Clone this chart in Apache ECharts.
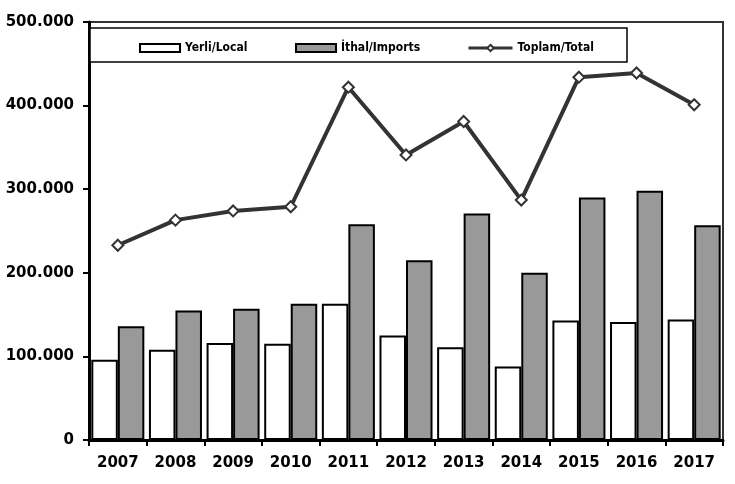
<!DOCTYPE html>
<html>
<head>
<meta charset="utf-8">
<script src="https://cdn.jsdelivr.net/npm/echarts@6/dist/echarts.min.js"></script>
<style>
  html, body { margin: 0; padding: 0; background: #fff; }
  #chart { width: 735px; height: 484px; }
</style>
</head>
<body>
<div id="chart"></div>
<script>
// years on the x axis
var years = ['2007', '2008', '2009', '2010', '2011', '2012', '2013', '2014', '2015', '2016', '2017'];
// yerli / local
var local = [96000, 108000, 116000, 115000, 163000, 125000, 111000, 88000, 143000, 141000, 144000];
// ithal / imports
var imports = [136000, 155000, 157000, 163000, 258000, 215000, 271000, 200000, 290000, 298000, 257000];
// toplam / total
var total = [233000, 263000, 274000, 279000, 422000, 341000, 381000, 287000, 434000, 439000, 401000];
var seriesNames = ['Yerli/Local', 'İthal/Imports', 'Toplam/Total'];

var myChart = echarts.init(document.getElementById('chart'));

function fmt(v) {
    if (v === 0) return '0';
    return String(v).replace(/\B(?=(\d{3})+(?!\d))/g, '.');
}

var legendText = {
    fontFamily: 'DejaVu Sans Condensed',
    fontWeight: 'bold',
    fontSize: 12,
    color: '#000'
};

myChart.setOption({
    animation: false,
    backgroundColor: '#fff',
    grid: {
        left: 89,
        right: 12,
        top: 22,
        bottom: 44,
        show: true,
        borderColor: '#333',
        borderWidth: 2,
        backgroundColor: 'transparent'
    },
    graphic: [{
        type: 'rect',
        shape: {x: 90, y: 28, width: 537, height: 34},
        style: {fill: '#fff', stroke: '#000', lineWidth: 1.5},
        z: 1
    }],
    legend: [
        {data: [seriesNames[0]], icon: 'rect', left: 134, top: 37, itemWidth: 40, itemHeight: 8, textStyle: legendText, z: 5},
        {data: [seriesNames[1]], icon: 'rect', left: 290, top: 37, itemWidth: 40, itemHeight: 8, textStyle: legendText, z: 5},
        {data: [seriesNames[2]], left: 462, top: 37, itemWidth: 44, itemHeight: 8, lineStyle: {width: 3}, textStyle: legendText, z: 5}
    ],
    xAxis: {
        type: 'category',
        data: years,
        boundaryGap: true,
        axisLine: {lineStyle: {color: '#000', width: 3}},
        axisTick: {show: true, interval: 0, length: 6, lineStyle: {color: '#000', width: 2}},
        axisLabel: {
            margin: 16,
            fontFamily: 'DejaVu Sans',
            fontWeight: 'bold',
            fontSize: 15,
            color: '#000'
        },
        splitLine: {show: false}
    },
    yAxis: {
        type: 'value',
        min: 0,
        max: 500000,
        interval: 100000,
        axisLine: {show: true, lineStyle: {color: '#000', width: 3}},
        axisTick: {show: true, length: 6, lineStyle: {color: '#000', width: 2}},
        axisLabel: {
            margin: 15,
            fontFamily: 'DejaVu Sans',
            fontWeight: 'bold',
            fontSize: 15,
            color: '#000',
            formatter: fmt
        },
        splitLine: {show: false}
    },
    series: [
        {
            name: seriesNames[0],
            type: 'bar',
            data: local,
            barGap: '0%',
            barCategoryGap: '8%',
            itemStyle: {color: '#fff', borderColor: '#000', borderWidth: 2}
        },
        {
            name: seriesNames[1],
            type: 'bar',
            data: imports,
            barGap: '0%',
            barCategoryGap: '8%',
            itemStyle: {color: '#999', borderColor: '#000', borderWidth: 2}
        },
        {
            name: seriesNames[2],
            type: 'line',
            data: total,
            symbol: 'diamond',
            symbolSize: 11,
            lineStyle: {color: '#333', width: 4},
            itemStyle: {color: '#fff', borderColor: '#333', borderWidth: 2},
            z: 3
        }
    ]
});
</script>
</body>
</html>
